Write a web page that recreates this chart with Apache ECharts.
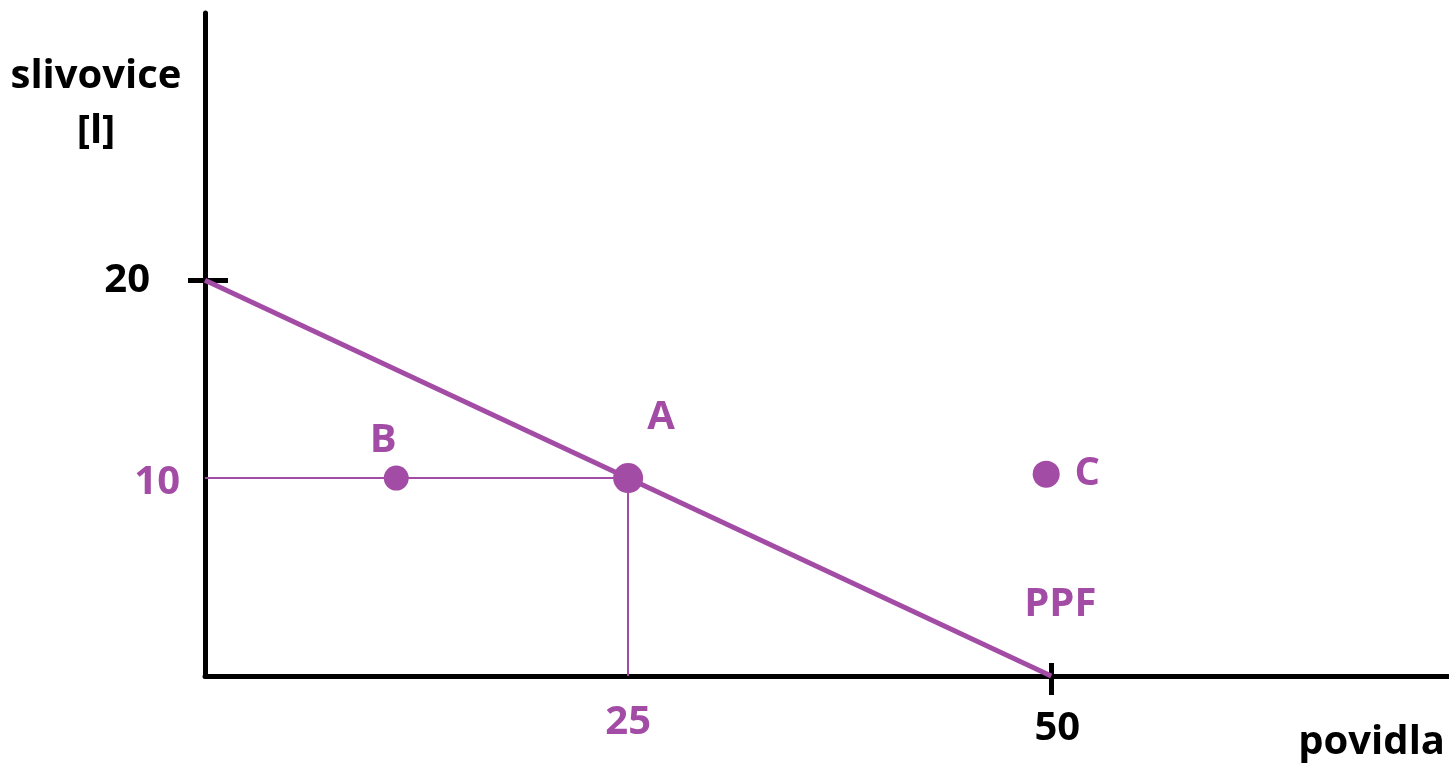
<!DOCTYPE html>
<html>
<head>
<meta charset="utf-8">
<script src="https://cdn.jsdelivr.net/npm/echarts@6/dist/echarts.min.js"></script>
<style>
  html, body { margin: 0; padding: 0; background: #fff; }
  #chart { width: 1449px; height: 764px; }
</style>
</head>
<body>
<div id="chart"></div>
<script>
// ---- data ----
const xName = 'povidla';
const yName = 'slivovice\n[l]';
const ppfX = [0, 50];          // PPF endpoints (povidla)
const ppfY = [20, 0];          // PPF endpoints (slivovice)
const pointNames = ['A', 'B', 'C'];
const pointX = [25, 11.3, 49.7];
const pointY = [10, 10, 10.2];
const xTickValues = [50];
const yTickValues = [20];
const xLabelValues = [25, 50];
const yLabelValues = [10, 20];

// ---- styles ----
const purple = '#a34ca6';
const FONT = 'Open Sans';
const baseFont = { fontFamily: FONT, fontWeight: 'bold', fontSize: 40 };
const pointStyle = {
  A: { size: 30, offset: [33, -60] },
  B: { size: 25, offset: [-13, -37] },
  C: { size: 27, offset: [41, -1] }
};

const chart = echarts.init(document.getElementById('chart'), null, { renderer: 'canvas' });

const axisBase = {
  type: 'value',
  splitLine: { show: false }
};

const option = {
  animation: false,
  backgroundColor: '#fff',
  grid: { left: 205, right: 0, top: 13, bottom: 88, containLabel: false },
  xAxis: [
    Object.assign({}, axisBase, {
      min: 0, max: 73.5, position: 'bottom',
      name: xName, nameLocation: 'end', nameGap: -4,
      nameTextStyle: Object.assign({}, baseFont, {
        color: '#000', align: 'right', verticalAlign: 'top', lineHeight: 40, padding: [47, 0, 0, 0]
      }),
      axisLine: { show: true, onZero: false, lineStyle: { color: '#000', width: 5 } },
      axisTick: { show: true, customValues: xTickValues, length: 19, lineStyle: { color: '#000', width: 5 } },
      axisLabel: {
        show: true, customValues: xLabelValues, margin: 27,
        formatter: v => (v === pointX[0] ? '{p|' + v + '}' : '{k|' + v + '}'),
        rich: {
          p: Object.assign({}, baseFont, { color: purple, lineHeight: 40 }),
          k: Object.assign({}, baseFont, { color: '#000', lineHeight: 40, padding: [11, 0, 0, 12] })
        }
      }
    }),
    Object.assign({}, axisBase, {
      min: 0, max: 73.5, position: 'bottom',
      axisLine: { show: false, onZero: false },
      axisLabel: { show: false },
      axisTick: { show: true, inside: true, customValues: xTickValues, length: 13, lineStyle: { color: '#000', width: 5 } }
    })
  ],
  yAxis: [
    Object.assign({}, axisBase, {
      min: 0, max: 33.5, position: 'left',
      name: yName, nameLocation: 'end', nameGap: -36,
      nameTextStyle: Object.assign({}, baseFont, {
        color: '#000', align: 'center', verticalAlign: 'top', lineHeight: 55, padding: [0, 218, 0, 0]
      }),
      axisLine: { show: true, onZero: false, lineStyle: { color: '#000', width: 5 } },
      axisTick: { show: true, customValues: yTickValues, length: 17, lineStyle: { color: '#000', width: 5 } },
      axisLabel: {
        show: true, customValues: yLabelValues, margin: 25,
        formatter: v => (v === pointY[0] ? '{p|' + v + '}' : '{k|' + v + '}'),
        rich: {
          p: Object.assign({}, baseFont, { color: purple, lineHeight: 40, padding: [10, 0, 0, 0] }),
          k: Object.assign({}, baseFont, { color: '#000', lineHeight: 40, padding: [0, 30, 0, 0] })
        }
      }
    }),
    Object.assign({}, axisBase, {
      min: 0, max: 33.5, position: 'left',
      axisLine: { show: false, onZero: false },
      axisLabel: { show: false },
      axisTick: { show: true, inside: true, customValues: yTickValues, length: 23, lineStyle: { color: '#000', width: 5 } }
    })
  ],
  series: [
    {
      type: 'line',
      xAxisIndex: 0, yAxisIndex: 0,
      data: ppfX.map((x, i) => [x, ppfY[i]]),
      symbol: 'none', showSymbol: false, silent: true,
      lineStyle: { color: purple, width: 5 },
      endLabel: Object.assign({}, baseFont, {
        show: true, formatter: 'PPF', color: purple, align: 'center', verticalAlign: 'middle',
        distance: 0, offset: [9, -71]
      }),
      z: 2
    },
    {
      type: 'scatter',
      xAxisIndex: 0, yAxisIndex: 0,
      silent: true,
      data: pointNames.map((n, i) => ({
        name: n,
        value: [pointX[i], pointY[i]],
        symbolSize: pointStyle[n].size,
        label: { offset: pointStyle[n].offset }
      })),
      symbol: 'circle',
      itemStyle: { color: purple, opacity: 1 },
      label: Object.assign({}, baseFont, {
        show: true, position: 'inside', formatter: '{b}', color: purple
      }),
      markLine: {
        silent: true, symbol: 'none',
        label: { show: false },
        lineStyle: { color: purple, width: 2, type: 'solid' },
        data: [
          [{ coord: [0, pointY[0]] }, { coord: [pointX[0], pointY[0]] }],
          [{ coord: [pointX[0], pointY[0]] }, { coord: [pointX[0], 0] }]
        ]
      },
      z: 3
    }
  ]
};

chart.setOption(option);
</script>
</body>
</html>
